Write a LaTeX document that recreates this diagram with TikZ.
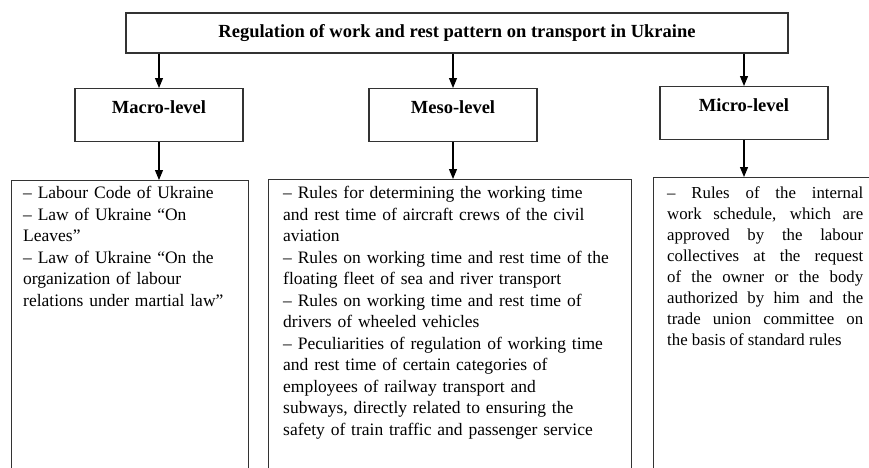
\documentclass[tikz,border=0pt]{standalone}
\usepackage{fontspec}
\setmainfont{Liberation Serif}
\usetikzlibrary{positioning,arrows.meta}

\tikzset{
  headbox/.style={draw=black!80, line width=1.1, minimum width=662, minimum height=40, inner sep=0, font=\fontsize{18.5}{22}\selectfont\bfseries},
  levelbox/.style={draw=black!80, line width=1.1, minimum width=168, inner sep=0, text height=25, text depth=28, anchor=north, font=\fontsize{18.5}{22}\selectfont\bfseries},
  framebox/.style={draw=black!80, line width=1.1, anchor=north west, minimum height=330, inner sep=0},
  listtext/.style={anchor=north west, inner sep=0, align=left, font=\fontsize{17.5}{21.5}\selectfont},
  flow/.style={-{Triangle[length=10pt,width=8pt]}, line width=1.1}
}

\begin{document}
\begin{tikzpicture}[x=1pt, y=-1pt]
  \useasboundingbox (0,0) rectangle (869,467);
  \clip (0,0) rectangle (869,467);

  % nodes
  \node[headbox] (head) at (457,33) {Regulation of work and rest pattern on transport in Ukraine};
  \node[levelbox] (macro) at (159,88) {Macro-level};
  \node[levelbox] (meso) at (453,88) {Meso-level};
  \node[levelbox] (micro) at (744,86) {Micro-level};

  \node[framebox, minimum width=237] (macrolist) at (11,180) {};
  \node[framebox, minimum width=363] (mesolist) at (268,179) {};
  \node[framebox, minimum width=240] (microlist) at (653,177) {};

  \node[listtext, text width=220] (macrotext) at (23,186) {%
    – Labour Code of Ukraine\\
    – Law of Ukraine “On\\
    Leaves”\\
    – Law of Ukraine “On the\\
    organization of labour\\
    relations under martial law”};
  \node[listtext, text width=345] (mesotext) at (283,186) {%
    – Rules for determining the working time\\
    and rest time of aircraft crews of the civil\\
    aviation\\
    – Rules on working time and rest time of the\\
    floating fleet of sea and river transport\\
    – Rules on working time and rest time of\\
    drivers of wheeled vehicles\\
    – Peculiarities of regulation of working time\\
    and rest time of certain categories of\\
    employees of railway transport and\\
    subways, directly related to ensuring the\\
    safety of train traffic and passenger service};
  \node[listtext, text width=196, align=justify, font=\fontsize{16.8}{21.1}\selectfont] (microtext) at (667,186) {%
    – Rules of the internal\linebreak
    work schedule, which are\linebreak
    approved by the labour\linebreak
    collectives at the request\linebreak
    of the owner or the body\linebreak
    authorized by him and the\linebreak
    trade union committee on\linebreak
    the basis of standard rules};

  % edges
  \draw[flow] (head.south -| macro.north) -- (macro.north);
  \draw[flow] (head.south -| meso.north) -- (meso.north);
  \draw[flow] (head.south -| micro.north) -- (micro.north);
  \draw[flow] (macro.south) -- (macro.south |- macrolist.north);
  \draw[flow] (meso.south) -- (meso.south |- mesolist.north);
  \draw[flow] (micro.south) -- (micro.south |- microlist.north);
\end{tikzpicture}
\end{document}
